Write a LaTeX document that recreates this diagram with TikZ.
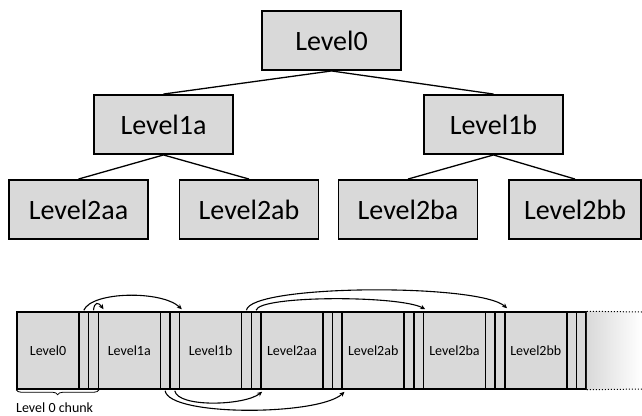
\documentclass[tikz,border=0pt]{standalone}
\usepackage{fontspec}
\setmainfont{Carlito}
\usetikzlibrary{arrows.meta,decorations.pathreplacing,calc}
\definecolor{boxgray}{HTML}{D9D9D9}
\begin{document}
\begin{tikzpicture}[x=1pt,y=-1pt,
  treebox/.style={draw=black, line width=1.9pt, fill=boxgray, minimum width=139pt, minimum height=59pt, inner sep=0pt, font=\fontsize{28}{30}\selectfont},
  blockbox/.style={draw=black, line width=1.5pt, fill=boxgray, minimum width=62pt, minimum height=77pt, inner sep=0pt, font=\fontsize{14}{16}\selectfont},
  stripbox/.style={draw=black, line width=1.5pt, fill=boxgray, minimum width=9.65pt, minimum height=77pt, inner sep=0pt},
  treeedge/.style={line width=1.3pt},
  ptr/.style={line width=1.1pt, -{Stealth[length=5pt,width=4.5pt]}},
]
\useasboundingbox (0,0) rectangle (642,415);

% tree
\node[treebox] (L0) at (331.5,40.5) {Level0};
\node[treebox] (L1a) at (163.5,124.5) {Level1a};
\node[treebox] (L1b) at (493.5,124.5) {Level1b};
\node[treebox] (L2aa) at (78.5,209.5) {Level2aa};
\node[treebox] (L2ab) at (249,209.5) {Level2ab};
\node[treebox] (L2ba) at (408,209.5) {Level2ba};
\node[treebox, minimum width=132pt] (L2bb) at (575,209.5) {Level2bb};

\draw[treeedge] (L0.south) -- (L1a.north);
\draw[treeedge] (L0.south) -- (L1b.north);
\draw[treeedge] (L1a.south) -- (L2aa.north);
\draw[treeedge] (L1a.south) -- (L2ab.north);
\draw[treeedge] (L1b.south) -- (L2ba.north);
\draw[treeedge] (L1b.south) -- (L2bb.north);

% linear layout
\foreach \lab [count=\i from 0] in {Level0,Level1a,Level1b,Level2aa,Level2ab,Level2ba,Level2bb} {
  \pgfmathsetmacro\sx{17+81.3*\i}
  \node[blockbox] (b\i) at (\sx+31,350.5) {\lab};
  \node[stripbox] (sa\i) at (\sx+66.825,350.5) {};
  \node[stripbox] (sb\i) at (\sx+76.475,350.5) {};
}
\coordinate (tailtop) at (642,312);
\coordinate (tailbot) at (642,389);
\shade[left color=boxgray, right color=white] (sb6.north east) rectangle (tailbot);
\draw[line width=1pt, dotted] (sb6.north east) -- (tailtop);
\draw[line width=1pt, dotted] (sb6.south east) -- (tailbot);

% pointers above
\draw[ptr] ([yshift=1pt]sa0.north) .. controls +(8,-19) and +(-20,-19) .. ([xshift=3pt,yshift=2pt]b2.north west);
\draw[ptr] ([yshift=1pt]sb0.north) .. controls +(1,-9) and +(-5,-7) .. ([xshift=6pt,yshift=2pt]b1.north west);
\draw[ptr] ([yshift=1pt]sa2.north) .. controls +(4,-26) and +(-28,-25) .. ([xshift=3pt,yshift=3pt]b6.north west);
\draw[ptr] ([yshift=1pt]sb2.north) .. controls +(3,-15) and +(-26,-14) .. ([xshift=2.5pt,yshift=2pt]b5.north west);

% pointers below
\draw[ptr] ([yshift=-1pt]sa1.south) .. controls +(4,26) and +(-25,24) .. ([xshift=3pt,yshift=-2pt]b4.south west);
\draw[ptr] ([yshift=-1pt]sb1.south) .. controls +(3,17) and +(-18,14) .. ([xshift=2pt,yshift=-2pt]b3.south west);

% chunk brace
\draw[decorate, decoration={brace, mirror, amplitude=5pt}, line width=0.8pt] (b0.south west) -- (sb0.south east);
\node[anchor=west, inner sep=0pt, font=\fontsize{14}{16}\selectfont] (chunk) at (16,408) {Level 0 chunk};
\end{tikzpicture}
\end{document}
